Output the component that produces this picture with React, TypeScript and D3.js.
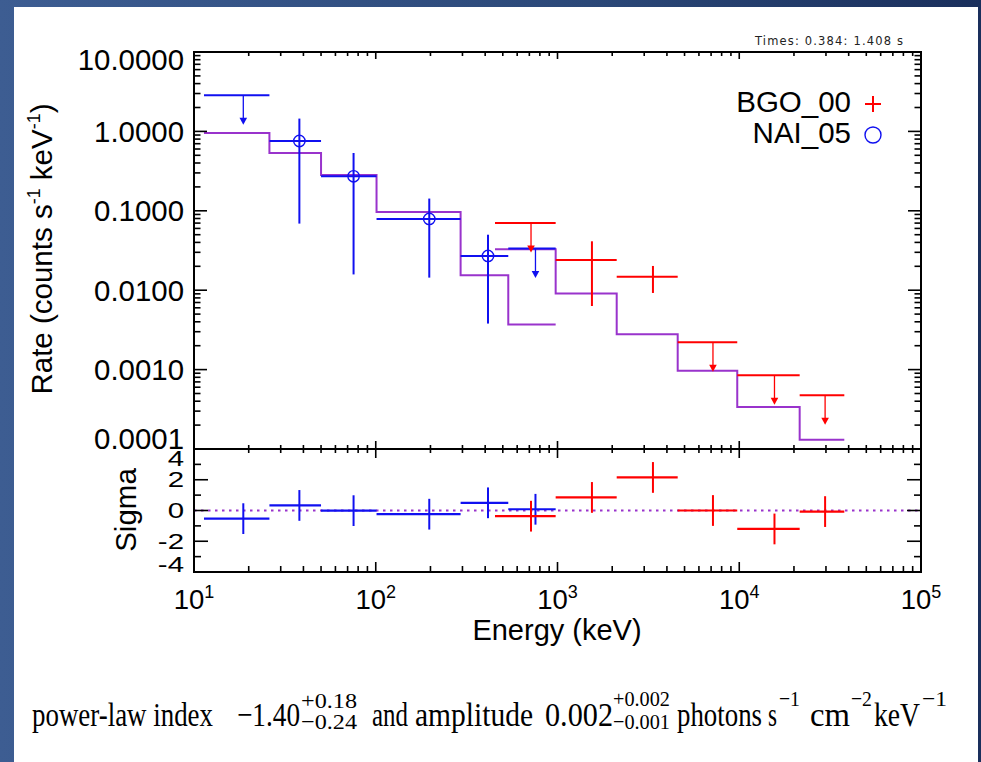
import React from "react";
import * as d3 from "d3";

// NAI_05 bins (keV), rates (counts s^-1 keV^-1), model and residuals
const naiEdges = [11.35, 26, 50, 101, 293, 536, 977];
const naiModel = [0.955, 0.535, 0.283, 0.0966, 0.0154, 0.0037];
const naiRate = [2.85, 0.757, 0.272, 0.0789, 0.027, 0.0334];
const naiLow = [null, 0.069, 0.0158, 0.0144, 0.0038, null];
const naiHigh = [null, 1.45, 0.535, 0.1426, 0.05, null];
const naiSigma = [-0.53, 0.33, -0.01, -0.24, 0.5, 0.08];

// BGO_00 bins
const bgoEdges = [453, 977, 2117, 4585, 9750, 21500, 37850];
const bgoModel = [0.0327, 0.00906, 0.00279, 0.00097, 0.000338, 0.000131];
const bgoRate = [0.0702, 0.024, 0.0148, 0.00221, 0.000848, 0.000474];
const bgoLow = [null, 0.00632, 0.00923, null, null, null];
const bgoHigh = [null, 0.0413, 0.0202, null, null, null];
const bgoSigma = [-0.37, 0.85, 2.15, 0.0, -1.2, -0.07];

const rateTicks = [10, 1, 0.1, 0.01, 0.001, 0.0001];
const sigmaTicks = [4, 2, 0, -2, -4];
const energyDecades = [1, 2, 3, 4, 5];

const BLUE = "#1010f0";
const RED = "#ff0000";
const PURPLE = "#9933cc";
const SANS = "'Liberation Sans', Arial, Helvetica, sans-serif";
const SERIF = "'Liberation Serif', 'Times New Roman', serif";

const left = 194;
const right = 921;
const top = 52;
const mid = 449;
const bottom = 572;

export default function App() {
  const x = d3.scaleLog().domain([10, 1e5]).range([left, right]);
  const yRate = d3.scaleLog().domain([1e-4, 10]).range([mid, top]);
  const ySig = d3.scaleLinear().domain([-4, 4]).range([bottom, mid]);

  const step = d3
    .line<[number, number]>()
    .x((d) => x(d[0]))
    .y((d) => yRate(d[1]))
    .curve(d3.curveStepAfter);

  const modelPts = (edges: number[], model: number[]) =>
    edges.map((e, i) => [e, model[Math.min(i, model.length - 1)]] as [number, number]);

  // minor ticks
  const xMinor: number[] = [];
  for (let d = 1; d < 5; d++) for (let m = 2; m < 10; m++) xMinor.push(m * 10 ** d);
  const yMinor: number[] = [];
  for (let d = -4; d < 1; d++) for (let m = 2; m < 10; m++) yMinor.push(m * 10 ** d);

  const spectrum = (
    edges: number[],
    rate: number[],
    low: (number | null)[],
    high: (number | null)[],
    color: string,
    circles: boolean
  ) =>
    rate.map((r, i) => {
      const x0 = x(edges[i]);
      const x1 = x(edges[i + 1]);
      const xc = x((edges[i] + edges[i + 1]) / 2);
      const yc = yRate(r);
      const lo = low[i];
      const hi = high[i];
      if (lo == null || hi == null) {
        // upper limit with arrow
        return (
          <g key={i}>
            <line x1={x0} x2={x1} y1={yc} y2={yc} stroke={color} strokeWidth={2} />
            <line x1={xc} x2={xc} y1={yc} y2={yc + 23} stroke={color} strokeWidth={1.3} />
            <path
              d={`M${xc - 3.8},${yc + 22.5} L${xc + 3.8},${yc + 22.5} L${xc},${yc + 29.5} Z`}
              fill={color}
            />
          </g>
        );
      }
      return (
        <g key={i}>
          <line x1={x0} x2={x1} y1={yc} y2={yc} stroke={color} strokeWidth={2} />
          <line x1={xc} x2={xc} y1={yRate(hi)} y2={yRate(lo)} stroke={color} strokeWidth={2} />
          {circles && (
            <circle cx={xc} cy={yc} r={5.7} fill="none" stroke={color} strokeWidth={1.4} />
          )}
        </g>
      );
    });

  const residuals = (edges: number[], sig: number[], color: string) =>
    sig.map((s, i) => {
      const xc = x((edges[i] + edges[i + 1]) / 2);
      return (
        <g key={i}>
          <line
            x1={x(edges[i])}
            x2={x(edges[i + 1])}
            y1={ySig(s)}
            y2={ySig(s)}
            stroke={color}
            strokeWidth={2.2}
          />
          <line x1={xc} x2={xc} y1={ySig(s + 1)} y2={ySig(s - 1)} stroke={color} strokeWidth={2} />
        </g>
      );
    });

  const tickStroke = { stroke: "#000", strokeWidth: 1.6 };

  return (
    <svg
      width={981}
      height={762}
      style={{ position: "absolute", left: 0, top: 0, display: "block" }}
    >
      <defs>
        <linearGradient id="bg" x1="0" x2="1" y1="0" y2="0">
          <stop offset="0" stopColor="#3d5d92" />
          <stop offset="0.6" stopColor="#2b4878" />
          <stop offset="1" stopColor="#1a2f5c" />
        </linearGradient>
      </defs>
      <rect x={0} y={0} width={981} height={762} fill="url(#bg)" />
      <rect x={14} y={7} width={964} height={755} fill="#ffffff" />

      {/* Times label */}
      <text
        x={755}
        y={45}
        fontFamily="'DejaVu Sans', sans-serif"
        fontSize={11.5}
        fill="#222"
        textLength={148}
        lengthAdjust="spacing"
      >
        Times: 0.384: 1.408 s
      </text>

      {/* model step lines */}
      <path d={step(modelPts(naiEdges, naiModel)) || ""} fill="none" stroke={PURPLE} strokeWidth={2} />
      <path d={step(modelPts(bgoEdges, bgoModel)) || ""} fill="none" stroke={PURPLE} strokeWidth={2} />

      {/* data */}
      {spectrum(naiEdges, naiRate, naiLow, naiHigh, BLUE, true)}
      {spectrum(bgoEdges, bgoRate, bgoLow, bgoHigh, RED, false)}

      {/* residuals */}
      <line
        x1={left}
        x2={right}
        y1={ySig(0)}
        y2={ySig(0)}
        stroke={PURPLE}
        strokeWidth={2}
        strokeDasharray="2.5 4.5"
      />
      {residuals(naiEdges, naiSigma, BLUE)}
      {residuals(bgoEdges, bgoSigma, RED)}

      {/* x ticks */}
      {energyDecades.map((d) => {
        const xx = x(10 ** d);
        return (
          <g key={"xM" + d}>
            <line x1={xx} x2={xx} y1={top} y2={top + 7} {...tickStroke} />
            <line x1={xx} x2={xx} y1={mid} y2={mid - 8} {...tickStroke} />
            <line x1={xx} x2={xx} y1={mid} y2={mid + 9} {...tickStroke} />
            <line x1={xx} x2={xx} y1={bottom} y2={bottom - 10} {...tickStroke} />
          </g>
        );
      })}
      {xMinor.map((v) => {
        const xx = x(v);
        return (
          <g key={"xm" + v}>
            <line x1={xx} x2={xx} y1={top} y2={top + 4} {...tickStroke} />
            <line x1={xx} x2={xx} y1={mid} y2={mid - 4} {...tickStroke} />
            <line x1={xx} x2={xx} y1={mid} y2={mid + 4} {...tickStroke} />
            <line x1={xx} x2={xx} y1={bottom} y2={bottom - 6} {...tickStroke} />
          </g>
        );
      })}

      {/* rate y ticks */}
      {rateTicks.map((v) => (
        <g key={"yM" + v}>
          <line x1={left} x2={left + 13} y1={yRate(v)} y2={yRate(v)} {...tickStroke} />
          <line x1={right} x2={right - 13} y1={yRate(v)} y2={yRate(v)} {...tickStroke} />
        </g>
      ))}
      {yMinor.map((v) => (
        <g key={"ym" + v}>
          <line x1={left} x2={left + 6.5} y1={yRate(v)} y2={yRate(v)} {...tickStroke} />
          <line x1={right} x2={right - 6.5} y1={yRate(v)} y2={yRate(v)} {...tickStroke} />
        </g>
      ))}

      {/* sigma y ticks */}
      {d3.range(-4, 5).map((v) => {
        const len = v % 2 === 0 ? 14 : 7;
        return (
          <g key={"ys" + v}>
            <line x1={left} x2={left + len} y1={ySig(v)} y2={ySig(v)} {...tickStroke} />
            <line x1={right} x2={right - len} y1={ySig(v)} y2={ySig(v)} {...tickStroke} />
          </g>
        );
      })}

      {/* frames */}
      <rect x={left} y={top} width={right - left} height={mid - top} fill="none" stroke="#000" strokeWidth={2} />
      <rect x={left} y={mid} width={right - left} height={bottom - mid} fill="none" stroke="#000" strokeWidth={2} />

      {/* rate tick labels */}
      {rateTicks.map((v) => {
        const c = Math.min(Math.max(yRate(v), top + 8), mid - 10);
        return (
          <text
            key={"yl" + v}
            x={184}
            y={c + 10.3}
            textAnchor="end"
            fontFamily={SANS}
            fontSize={29.4}
          >
            {d3.format(".4f")(v)}
          </text>
        );
      })}

      {/* sigma tick labels (vertically squashed) */}
      {sigmaTicks.map((v) => {
        const c = Math.min(Math.max(ySig(v), mid + 9), bottom - 8);
        return (
          <text
            key={"sl" + v}
            transform={`translate(184, ${c}) scale(1, 0.75)`}
            y={10.3}
            textAnchor="end"
            fontFamily={SANS}
            fontSize={29.4}
          >
            {String(v)}
          </text>
        );
      })}

      {/* energy tick labels */}
      {energyDecades.map((d) => (
        <text
          key={"xl" + d}
          x={x(10 ** d)}
          y={609}
          textAnchor="middle"
          fontFamily={SANS}
          fontSize={27.5}
        >
          10
          <tspan fontSize={18} dy={-11}>
            {d}
          </tspan>
        </text>
      ))}

      {/* axis titles */}
      <text x={557} y={640} textAnchor="middle" fontFamily={SANS} fontSize={29}>
        Energy (keV)
      </text>
      <text transform="translate(52, 249) rotate(-90)" textAnchor="middle" fontFamily={SANS} fontSize={29.5}>
        Rate (counts s
        <tspan fontSize={18} dy={-12}>
          -1
        </tspan>
        <tspan dy={12}> keV</tspan>
        <tspan fontSize={18} dy={-12}>
          -1
        </tspan>
        <tspan dy={12}>)</tspan>
      </text>
      <text transform="translate(136, 510) rotate(-90)" textAnchor="middle" fontFamily={SANS} fontSize={29.5}>
        Sigma
      </text>

      {/* legend */}
      <text x={851} y={112} textAnchor="end" fontFamily={SANS} fontSize={29.5}>
        BGO_00
      </text>
      <text x={851} y={143} textAnchor="end" fontFamily={SANS} fontSize={29.5}>
        NAI_05
      </text>
      <line x1={865} x2={881} y1={104} y2={104} stroke={RED} strokeWidth={2} />
      <line x1={873} x2={873} y1={96} y2={112} stroke={RED} strokeWidth={2} />
      <circle cx={873} cy={135} r={8} fill="none" stroke={BLUE} strokeWidth={1.4} />

      {/* caption */}
      <g fontFamily={SERIF} fill="#000">
        <text x={32} y={726} fontSize={34} textLength={181} lengthAdjust="spacingAndGlyphs">
          power-law index
        </text>
        <text x={237} y={726} fontSize={34} textLength={63} lengthAdjust="spacingAndGlyphs">
          −1.40
        </text>
        <text x={301} y={708} fontSize={22} textLength={56} lengthAdjust="spacingAndGlyphs">
          +0.18
        </text>
        <text x={301} y={729} fontSize={22} textLength={56} lengthAdjust="spacingAndGlyphs">
          −0.24
        </text>
        <text x={372} y={726} fontSize={34} textLength={36} lengthAdjust="spacingAndGlyphs">
          and
        </text>
        <text x={415} y={726} fontSize={34} textLength={118} lengthAdjust="spacingAndGlyphs">
          amplitude
        </text>
        <text x={545} y={726} fontSize={34} textLength={68} lengthAdjust="spacingAndGlyphs">
          0.002
        </text>
        <text x={613} y={706} fontSize={22} textLength={57} lengthAdjust="spacingAndGlyphs">
          +0.002
        </text>
        <text x={613} y={729} fontSize={22} textLength={57} lengthAdjust="spacingAndGlyphs">
          −0.001
        </text>
        <text x={677} y={726} fontSize={34} textLength={85} lengthAdjust="spacingAndGlyphs">
          photons
        </text>
        <text x={768} y={726} fontSize={34} textLength={9} lengthAdjust="spacingAndGlyphs">
          s
        </text>
        <text x={779} y={706} fontSize={22} textLength={21} lengthAdjust="spacingAndGlyphs">
          −1
        </text>
        <text x={810} y={726} fontSize={34} textLength={40} lengthAdjust="spacingAndGlyphs">
          cm
        </text>
        <text x={851} y={706} fontSize={22} textLength={21} lengthAdjust="spacingAndGlyphs">
          −2
        </text>
        <text x={874} y={726} fontSize={34} textLength={46} lengthAdjust="spacingAndGlyphs">
          keV
        </text>
        <text x={922} y={706} fontSize={22} textLength={25} lengthAdjust="spacingAndGlyphs">
          −1
        </text>
      </g>
    </svg>
  );
}
